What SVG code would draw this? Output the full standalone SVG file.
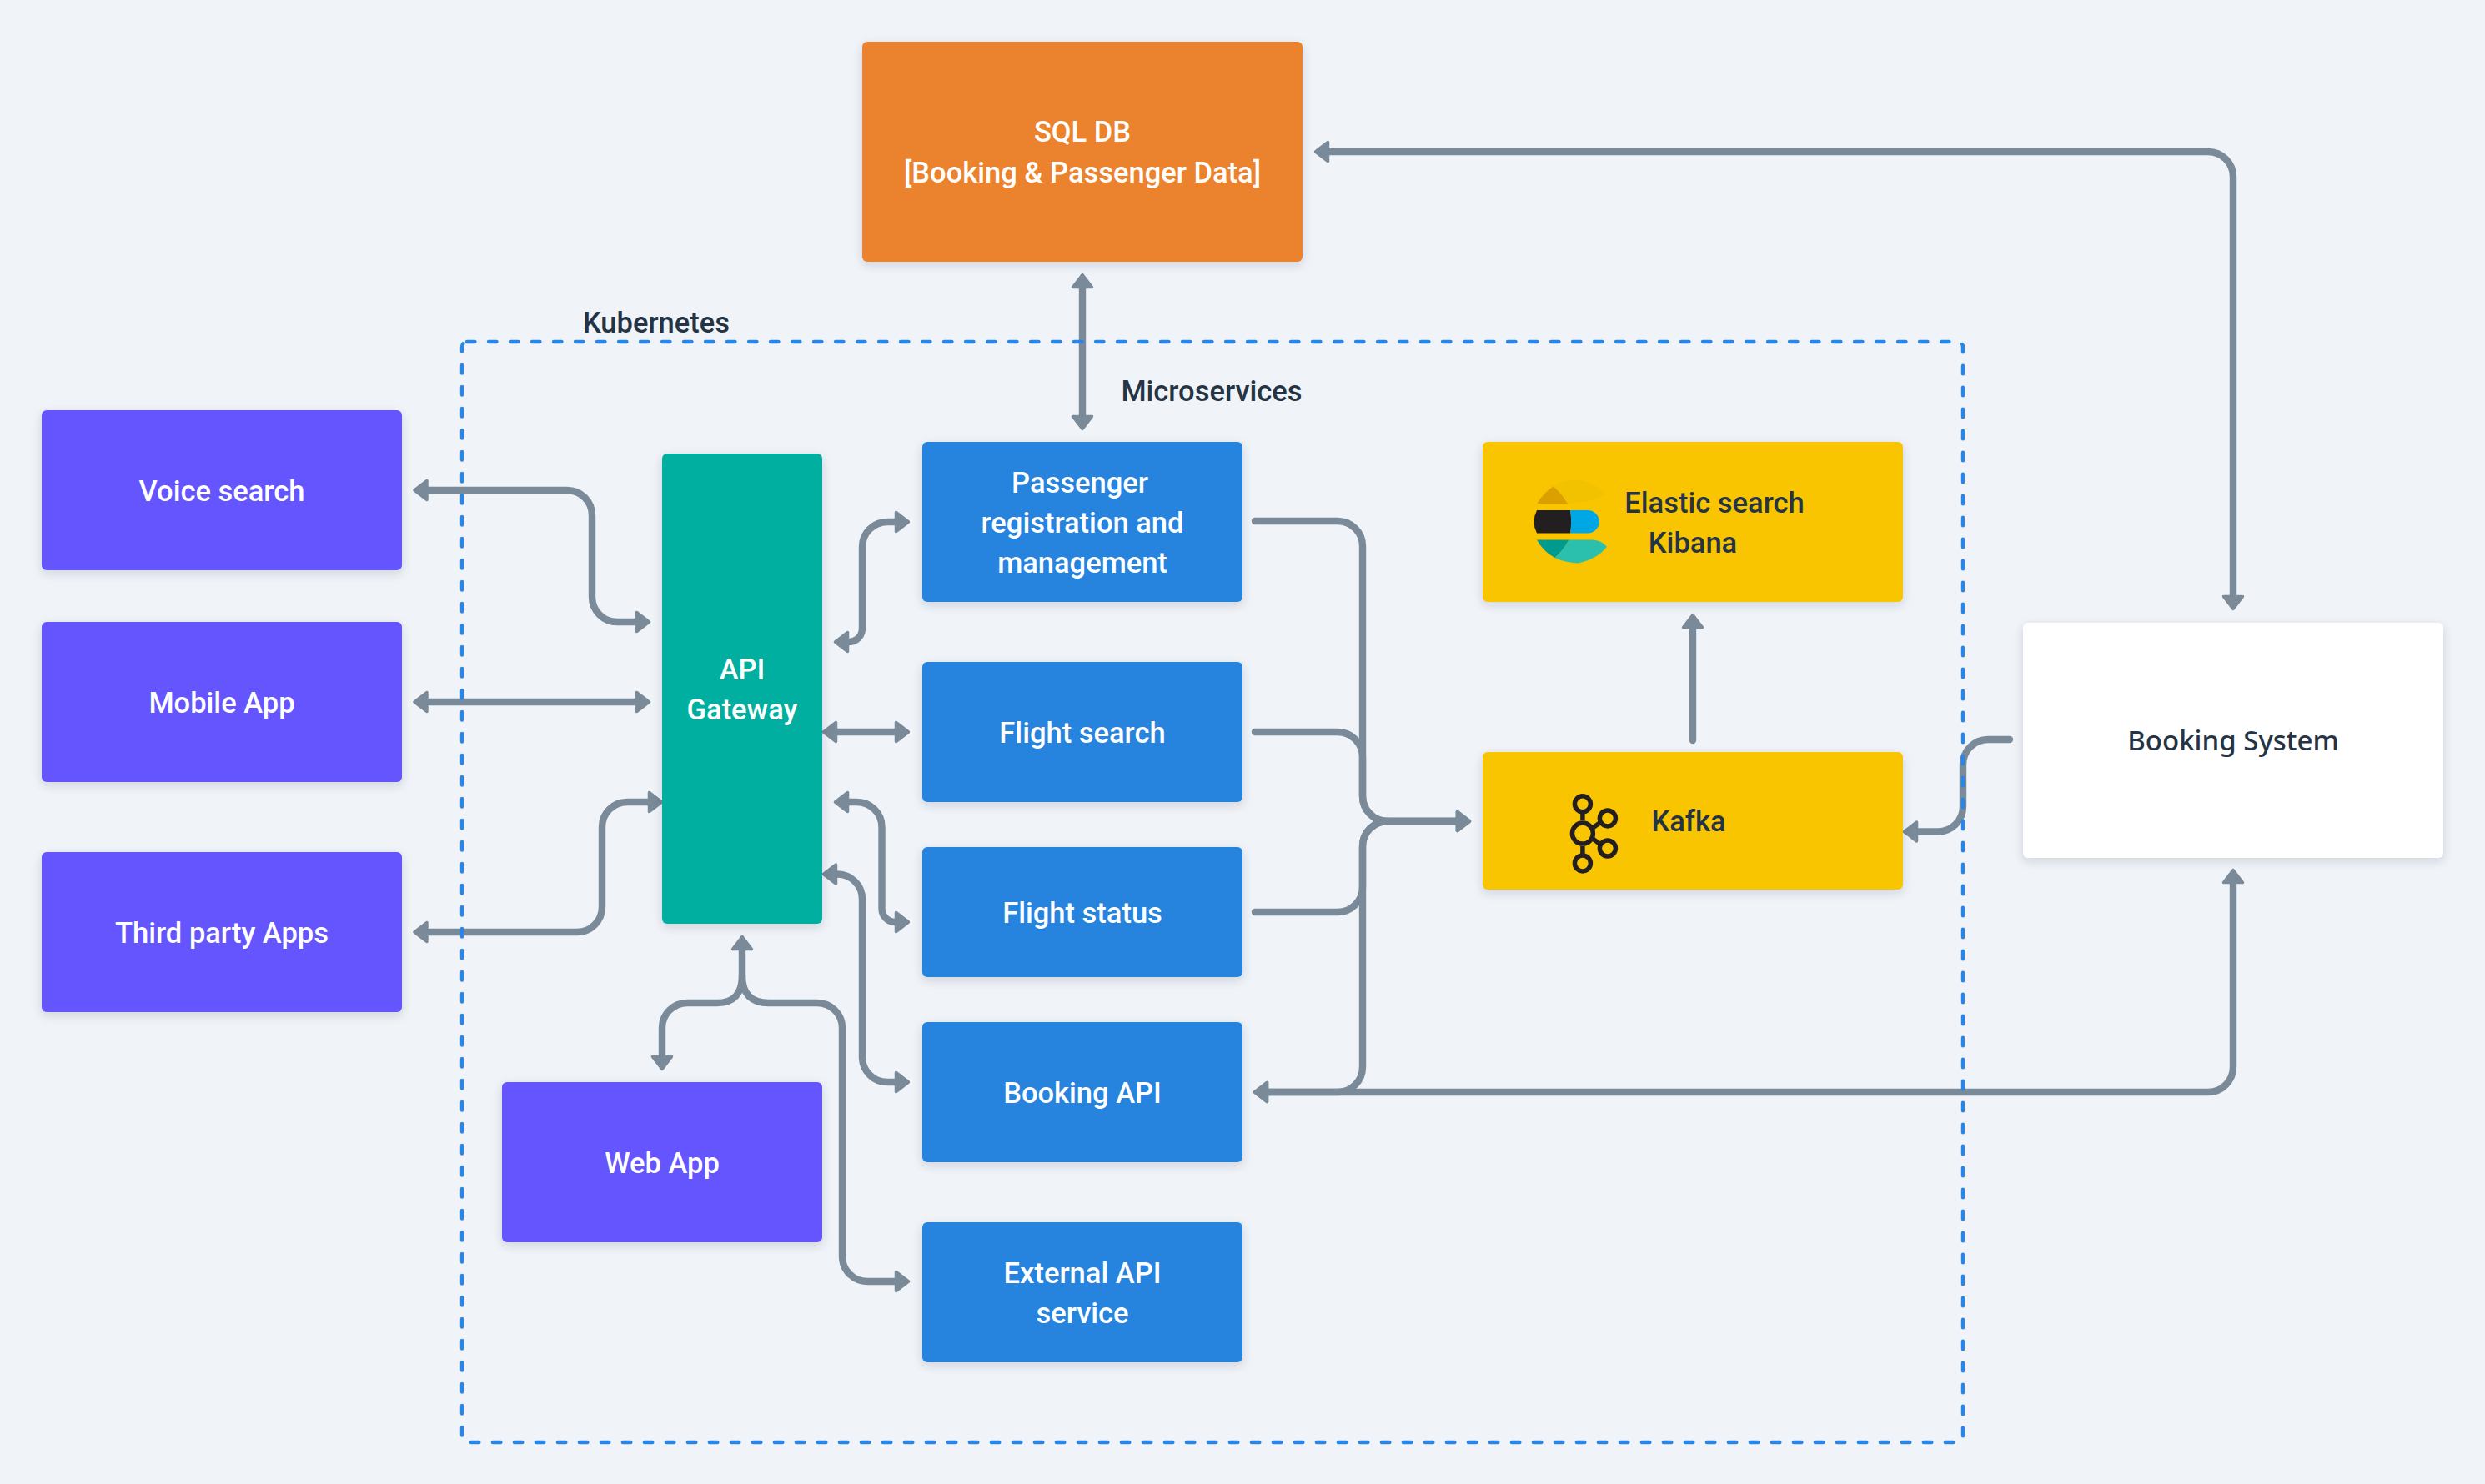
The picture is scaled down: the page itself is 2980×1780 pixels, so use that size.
<svg xmlns="http://www.w3.org/2000/svg" width="2980" height="1780" viewBox="0 0 2980 1780">
<style>
.box{filter:url(#sh)}
.lbl{font-family:"Roboto","Liberation Sans",sans-serif;font-size:34.5px;font-weight:500;text-anchor:middle;fill:#fff}
.dark{fill:#243445}
.sys{font-family:"Noto Sans","Liberation Sans",sans-serif;font-size:33px;font-weight:500;text-anchor:middle;fill:#243445}
.c{fill:none;stroke:#7A8A98;stroke-width:8.4;stroke-linecap:round}
.b{marker-end:url(#ah)}
.bb{marker-start:url(#ah);marker-end:url(#ah)}
.k{fill:none;stroke:#231F20;stroke-width:5.5}
</style>
<defs>
<filter id="sh" x="-15%" y="-15%" width="130%" height="135%"><feDropShadow dx="0" dy="4" stdDeviation="6" flood-color="#243445" flood-opacity="0.16"/></filter>
<marker id="ah" markerUnits="userSpaceOnUse" markerWidth="34" markerHeight="36" viewBox="-4 -18 34 36" refX="2" refY="0" orient="auto-start-reverse"><path d="M1.5 -11.5 L16.5 0 L1.5 11.5 Z" fill="#7A8A98" stroke="#7A8A98" stroke-width="3.5" stroke-linejoin="round"/></marker>
</defs>
<rect width="2980" height="1780" fill="#F0F4F8"/>
<g id="connectors">
<path class="c bb" d="M511.5 588H680A30 30 0 0 1 710 618V716A30 30 0 0 0 740 746H764"/>
<path class="c bb" d="M511.5 842H764"/>
<path class="c bb" d="M511.5 1118H692A30 30 0 0 0 722 1088V992A30 30 0 0 1 752 962H779"/>
<path class="c bb" d="M1075 626H1064A30 30 0 0 0 1034 656V754A16 16 0 0 1 1018 770H1016"/>
<path class="c bb" d="M1002 878H1075"/>
<path class="c bb" d="M1016 962H1027.5A30 30 0 0 1 1057.5 992V1090A16 16 0 0 0 1073.5 1106H1075"/>
<path class="c bb" d="M1002 1048.5H1004A30 30 0 0 1 1034 1078.5V1268A30 30 0 0 0 1064 1298H1075"/>
<path class="c bb" d="M890 1138V1170Q890 1203 860 1203H824A30 30 0 0 0 794 1233V1268"/>
<path class="c b" d="M890 1170Q890 1203 922 1203H980A30 30 0 0 1 1010 1233V1507A30 30 0 0 0 1040 1537H1075"/>
<path class="c bb" d="M1298 344V500"/>
<path class="c bb" d="M1592 182H2648A30 30 0 0 1 2678 212V716"/>
<path class="c bb" d="M1519 1310H2648A30 30 0 0 0 2678 1280V1058"/>
<path class="c b" d="M2030 888V752"/>
<path class="c b" d="M2410 887H2384A30 30 0 0 0 2354 917V967.5A30 30 0 0 1 2324 997.5H2298"/>
<path class="c b" d="M1505 625H1604A30 30 0 0 1 1634 655V955A30 30 0 0 0 1664 985H1748"/>
<path class="c b" d="M1505 878H1604A30 30 0 0 1 1634 908V955A30 30 0 0 0 1664 985H1748"/>
<path class="c b" d="M1505 1094H1604A30 30 0 0 0 1634 1064V1015A30 30 0 0 1 1664 985H1748"/>
<path class="c b" d="M1664 985A30 30 0 0 0 1634 1015V1280A30 30 0 0 1 1604 1310H1519"/>
</g>
<g id="kubernetes">
<rect x="554" y="410" width="1800" height="1320" rx="6" fill="none" stroke="#2A86E2" stroke-width="4.4" stroke-dasharray="9.5 16.5" stroke-linecap="round"/>
<text class="lbl dark" x="787" y="399">Kubernetes</text>
</g>
<text id="microservices" class="lbl dark" x="1453" y="481">Microservices</text>
<g id="sql-db"><rect class="box" x="1034" y="50" width="528" height="264" rx="6" fill="#EB832F"/><text class="lbl" x="1298" y="170">SQL DB</text><text class="lbl" x="1298" y="219">[Booking &amp; Passenger Data]</text></g>
<g id="voice-search"><rect class="box" x="50" y="492" width="432" height="192" rx="6" fill="#6554FF"/><text class="lbl" x="266" y="601">Voice search</text></g>
<g id="mobile-app"><rect class="box" x="50" y="746" width="432" height="192" rx="6" fill="#6554FF"/><text class="lbl" x="266" y="855">Mobile App</text></g>
<g id="third-party"><rect class="box" x="50" y="1022" width="432" height="192" rx="6" fill="#6554FF"/><text class="lbl" x="266" y="1131">Third party Apps</text></g>
<g id="web-app"><rect class="box" x="602" y="1298" width="384" height="192" rx="6" fill="#6554FF"/><text class="lbl" x="794" y="1407">Web App</text></g>
<g id="api-gateway"><rect class="box" x="794" y="544" width="192" height="564" rx="6" fill="#05AFA0"/><text class="lbl" x="890" y="815">API</text><text class="lbl" x="890" y="863">Gateway</text></g>
<g id="passenger"><rect class="box" x="1106" y="530" width="384" height="192" rx="6" fill="#2684DF"/><text class="lbl" x="1295" y="591">Passenger</text><text class="lbl" x="1298" y="639">registration and</text><text class="lbl" x="1298" y="687">management</text></g>
<g id="flight-search"><rect class="box" x="1106" y="794" width="384" height="168" rx="6" fill="#2684DF"/><text class="lbl" x="1298" y="891">Flight search</text></g>
<g id="flight-status"><rect class="box" x="1106" y="1016" width="384" height="156" rx="6" fill="#2684DF"/><text class="lbl" x="1298" y="1107">Flight status</text></g>
<g id="booking-api"><rect class="box" x="1106" y="1226" width="384" height="168" rx="6" fill="#2684DF"/><text class="lbl" x="1298" y="1323">Booking API</text></g>
<g id="external-api"><rect class="box" x="1106" y="1466" width="384" height="168" rx="6" fill="#2684DF"/><text class="lbl" x="1298" y="1539">External API</text><text class="lbl" x="1298" y="1587">service</text></g>
<g id="elastic"><rect class="box" x="1778" y="530" width="504" height="192" rx="6" fill="#F9C400"/>
<path d="M1843.2 603.9Q1851 591 1862.9 583.2Q1873 592 1880 603.9Z" fill="#DBA000"/>
<path d="M1862.9 583.2Q1885 571 1905 579Q1918 583 1926 593Q1905 604 1880 603.9Q1873 592 1862.9 583.2Z" fill="#F2C200"/>
<path d="M1846 612H1883.2Q1885 626 1883.2 639.6H1843Q1836 626 1843 612Z" fill="#231F20"/>
<path d="M1883.2 612H1904A13.8 13.8 0 0 1 1904 639.6H1883.2Q1885 626 1883.2 612Z" fill="#00A7E5"/>
<path d="M1843 647.5H1881.4Q1875 660 1864.6 669Q1851 662 1843 647.5Z" fill="#009B8D"/>
<path d="M1881.4 647.5H1910Q1920 648 1927 655.7Q1915 671 1892 675.4Q1877 675 1864.6 669Q1875 660 1881.4 647.5Z" fill="#2AC0AD"/>
<text class="lbl dark" x="2056" y="615">Elastic search</text><text class="lbl dark" x="2030" y="663">Kibana</text></g>
<g id="kafka"><rect class="box" x="1778" y="902" width="504" height="165" rx="6" fill="#F9C400"/>
<path class="k" d="M1897.9 974V984M1897.9 1015V1025M1910 993L1919 986.5M1910 1006L1919 1012.5"/>
<circle class="k" cx="1897.9" cy="964.3" r="9.5"/><circle class="k" cx="1897.9" cy="999.6" r="12.5" stroke-width="6.5"/><circle class="k" cx="1927.9" cy="981.4" r="9.5"/><circle class="k" cx="1927.9" cy="1017.5" r="9.5"/><circle class="k" cx="1897.9" cy="1035.4" r="9.5"/>
<text class="lbl dark" x="2025" y="997">Kafka</text></g>
<g id="booking-system"><rect class="box" x="2426" y="747" width="504" height="282" rx="6" fill="#fff"/><text class="sys" x="2678" y="900">Booking System</text></g>
</svg>
